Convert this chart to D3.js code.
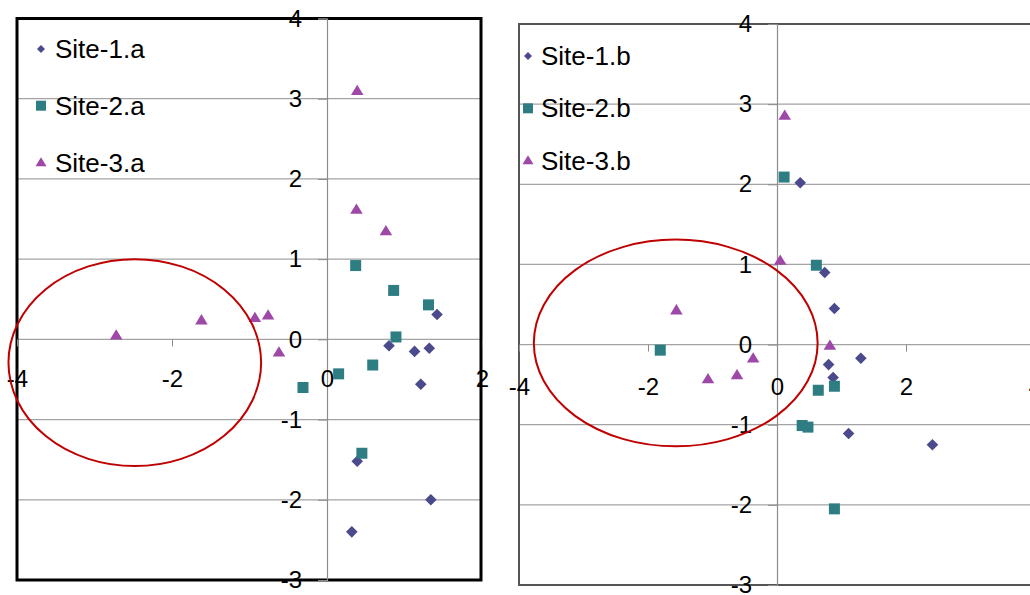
<!DOCTYPE html>
<html>
<head>
<meta charset="utf-8">
<script src="https://cdn.jsdelivr.net/npm/d3@7"></script>
<style>
  html, body { margin: 0; padding: 0; background: #fff; }
  svg { display: block; }
  text { font-family: "Liberation Sans", Arial, sans-serif; fill: #000; }
</style>
</head>
<body>
<svg id="chart" width="1030" height="595"></svg>
<script>
// ---------- data ----------
const yTicks = [-3, -2, -1, 0, 1, 2, 3, 4];
const xTicksA = [-4, -2, 0, 2];
const xTicksB = [-4, -2, 0, 2, 4];

const seriesNamesA = ["Site-1.a", "Site-2.a", "Site-3.a"];
const seriesNamesB = ["Site-1.b", "Site-2.b", "Site-3.b"];

// panel a
const site1aX = [1.42, 0.80, 1.13, 1.32, 1.21, 0.39, 1.34, 0.32];
const site1aY = [0.31, -0.08, -0.15, -0.11, -0.56, -1.52, -2.00, -2.40];
const site2aX = [0.37, 0.86, 1.31, 0.89, 0.59, 0.15, -0.31, 0.45];
const site2aY = [0.92, 0.61, 0.43, 0.03, -0.32, -0.43, -0.60, -1.42];
const site3aX = [0.39, 0.38, 0.76, -2.72, -1.62, -0.93, -0.76, -0.62];
const site3aY = [3.10, 1.62, 1.35, 0.05, 0.24, 0.27, 0.30, -0.16];

// panel b
const site1bX = [0.36, 0.74, 0.89, 1.30, 0.80, 0.87, 1.11, 2.41];
const site1bY = [2.02, 0.90, 0.45, -0.17, -0.25, -0.41, -1.11, -1.25];
const site2bX = [0.11, 0.61, -1.81, 0.64, 0.89, 0.39, 0.48, 0.89];
const site2bY = [2.09, 0.99, -0.07, -0.57, -0.52, -1.01, -1.03, -2.05];
const site3bX = [0.12, 0.05, -1.56, 0.82, -0.37, -0.62, -1.07];
const site3bY = [2.86, 1.05, 0.43, -0.01, -0.17, -0.38, -0.43];

// highlighted region (ellipse annotation), in data units: cx, cy, rx, ry
const ellipseA = [-2.48, -0.29, 1.63, 1.29];
const ellipseB = [-1.57, 0.02, 2.20, 1.29];

// ---------- styles ----------
const colors = ["#4A4A8C", "#2E7D83", "#9E48A8"];
const shapes = ["diamond", "square", "triangle"];

function markerPath(shape, s) {
  if (shape === "diamond") return `M0,${-s}L${s},0L0,${s}L${-s},0Z`;
  if (shape === "square") return `M${-s},${-s}H${s}V${s}H${-s}Z`;
  return `M0,${-s * 1.05}L${s * 1.1},${s * 0.75}L${-s * 1.1},${s * 0.75}Z`;
}
const markerSize = { diamond: 5.8, square: 5.5, triangle: 5.7 };
const legendSize = { diamond: 4, square: 5, triangle: 5 };
const fmt = d => String(d); // plain hyphen-minus like the reference

const svg = d3.select("#chart");

function panel(cfg) {
  const g = svg.append("g");
  const x = d3.scaleLinear().domain(cfg.xDomain).range([cfg.left, cfg.xEnd]);
  const y = d3.scaleLinear().domain([-3, 4]).range([cfg.bottom, cfg.top]);

  // gridlines
  g.append("g").selectAll("line").data(yTicks.slice(1, -1)).join("line")
    .attr("x1", cfg.left).attr("x2", cfg.right)
    .attr("y1", d => y(d)).attr("y2", d => y(d))
    .attr("stroke", "#a3a3a3").attr("stroke-width", 1.2);

  // frame
  g.append("rect")
    .attr("x", cfg.left).attr("y", cfg.top)
    .attr("width", cfg.right - cfg.left).attr("height", cfg.bottom - cfg.top)
    .attr("fill", "none").attr("stroke", cfg.frameColor).attr("stroke-width", cfg.frameWidth);

  // y axis at x=0
  const yAxis = g.append("g").attr("transform", `translate(${x(0)},0)`)
    .call(d3.axisLeft(y).tickValues(yTicks).tickSize(9).tickPadding(16).tickFormat(fmt));
  yAxis.select(".domain").attr("stroke", "#8c8c8c").attr("stroke-width", 1.2);
  yAxis.selectAll(".tick line").attr("stroke", "#8c8c8c");
  yAxis.selectAll("text").attr("font-size", 24).attr("fill", "#000")
    .attr("font-family", "Liberation Sans, Arial, sans-serif");

  // x axis at y=0
  const xAxis = g.append("g").attr("transform", `translate(0,${y(0)})`)
    .call(d3.axisBottom(x).tickValues(cfg.xTicks).tickSize(7).tickPadding(cfg.xPad).tickFormat(fmt));
  xAxis.select(".domain").remove();
  xAxis.selectAll(".tick line").attr("stroke", "#8c8c8c");
  xAxis.selectAll("text").attr("font-size", 24).attr("fill", "#000")
    .attr("font-family", "Liberation Sans, Arial, sans-serif");

  // points
  cfg.series.forEach((s, i) => {
    const pts = s.xs.map((v, k) => [v, s.ys[k]]);
    g.append("g").selectAll("path").data(pts).join("path")
      .attr("transform", d => `translate(${x(d[0])},${y(d[1])})`)
      .attr("d", markerPath(shapes[i], markerSize[shapes[i]]))
      .attr("fill", colors[i]);
  });

  // ellipse annotation
  const e = cfg.ellipse;
  g.append("ellipse")
    .attr("cx", x(e[0])).attr("cy", y(e[1]))
    .attr("rx", x(e[0] + e[2]) - x(e[0])).attr("ry", y(e[1]) - y(e[1] + e[3]))
    .attr("fill", "none").attr("stroke", "#C00000").attr("stroke-width", 2);

  // legend
  const lg = g.append("g");
  cfg.names.forEach((n, i) => {
    const row = lg.append("g").attr("transform", `translate(${cfg.legendX},${cfg.legendY + i * cfg.legendStep})`);
    row.append("path").attr("d", markerPath(shapes[i], legendSize[shapes[i]])).attr("fill", colors[i]);
    row.append("text").attr("x", cfg.legendTextDx).attr("dy", "0.35em")
      .attr("font-size", 26).text(n);
  });
}

panel({
  xDomain: [-4, 2], xTicks: xTicksA, left: 17, xEnd: 482, right: 481,
  top: 18.5, bottom: 580, frameColor: "#000", frameWidth: 3, xPad: 24,
  series: [{ xs: site1aX, ys: site1aY }, { xs: site2aX, ys: site2aY }, { xs: site3aX, ys: site3aY }],
  names: seriesNamesA, ellipse: ellipseA,
  legendX: 41, legendY: 49, legendStep: 56.7, legendTextDx: 14
});

panel({
  xDomain: [-4, 4], xTicks: xTicksB, left: 519, xEnd: 1035, right: 1060,
  top: 24, bottom: 585, frameColor: "#555", frameWidth: 2, xPad: 26,
  series: [{ xs: site1bX, ys: site1bY }, { xs: site2bX, ys: site2bY }, { xs: site3bX, ys: site3bY }],
  names: seriesNamesB, ellipse: ellipseB,
  legendX: 528, legendY: 56, legendStep: 52.3, legendTextDx: 13
});
</script>
</body>
</html>
